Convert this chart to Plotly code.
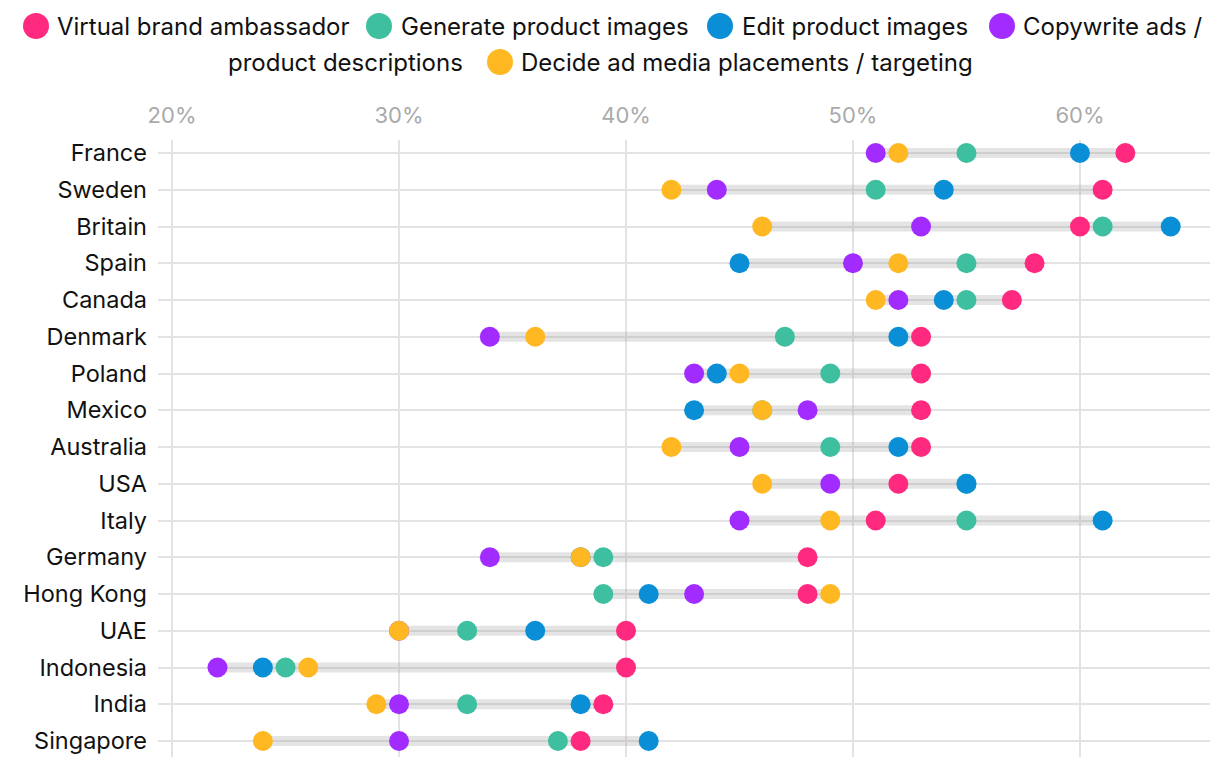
import plotly.graph_objects as go

countries = ["France", "Sweden", "Britain", "Spain", "Canada", "Denmark", "Poland",
             "Mexico", "Australia", "USA", "Italy", "Germany", "Hong Kong", "UAE",
             "Indonesia", "India", "Singapore"]
virtual = [62, 61, 60, 58, 57, 53, 53, 53, 53, 52, 51, 48, 48, 40, 40, 39, 38]
generate = [55, 51, 61, 55, 55, 47, 49, 46, 49, 55, 55, 39, 39, 33, 25, 33, 37]
edit = [60, 54, 64, 45, 54, 52, 44, 43, 52, 55, 61, 38, 41, 36, 24, 38, 41]
copywrite = [51, 44, 53, 50, 52, 34, 43, 48, 45, 49, 45, 34, 43, 30, 22, 30, 30]
decide = [52, 42, 46, 52, 51, 36, 45, 46, 42, 46, 49, 38, 49, 30, 26, 29, 24]

series_names = ["Virtual brand ambassador", "Generate product images", "Edit product images",
                "Copywrite ads / product descriptions", "Decide ad media placements / targeting"]
series_values = [virtual, generate, edit, copywrite, decide]
colors = ["#FF2A7F", "#3DBFA0", "#0A8FD6", "#A22CFF", "#FFB822"]
tick_vals = [20, 30, 40, 50, 60]
tick_text = ["20%", "30%", "40%", "50%", "60%"]

FONT = "Inter"
LEG_FS = 24
fig = go.Figure()

# range bars
bx, by = [], []
for i, c in enumerate(countries):
    vals = [s[i] for s in series_values]
    bx += [min(vals), max(vals), None]
    by += [c, c, None]
fig.add_trace(go.Scatter(x=bx, y=by, mode="lines",
                         line=dict(color="rgba(150,150,150,0.26)", width=10),
                         hoverinfo="skip", showlegend=False))

for name, vals, col in zip(series_names, series_values, colors):
    fig.add_trace(go.Scatter(x=vals, y=countries, mode="markers", name=name,
                             marker=dict(size=20, color=col, line=dict(width=0)),
                             showlegend=False))

# page offset (body margin) compensation
OX, OY = 8, 8
L_LEFT, L_TOP, PW, PH = 150, 132, 1052, 617
legend_items = [
    (36, 26, 55, series_names[0], colors[0]),
    (379, 26, 399, series_names[1], colors[1]),
    (720, 26, 740, series_names[2], colors[2]),
    (1002, 26, 1021, "Copywrite ads /", colors[3]),
    (500, 62, 519, "Decide ad media placements / targeting", colors[4]),
]
shapes = []
annotations = []
for cx, cy, tx, txt, col in legend_items:
    cx, cy, tx = cx - OX, cy - OY, tx - OX
    shapes.append(dict(type="circle", xref="paper", yref="paper",
                       xsizemode="pixel", ysizemode="pixel",
                       xanchor=(cx - L_LEFT) / PW, yanchor=1 + (L_TOP - cy) / PH,
                       x0=-13, x1=13, y0=-13, y1=13,
                       fillcolor=col, line=dict(width=0)))
    annotations.append(dict(xref="paper", yref="paper", x=0, y=1,
                            xshift=tx - L_LEFT, yshift=L_TOP - cy,
                            xanchor="left", yanchor="middle", showarrow=False,
                            text=txt, font=dict(family=FONT, size=LEG_FS, color="#111111")))
annotations.append(dict(xref="paper", yref="paper", x=0, y=1,
                        xshift=465 - OX - L_LEFT, yshift=L_TOP - (62 - OY),
                        xanchor="right", yanchor="middle", showarrow=False,
                        text="product descriptions",
                        font=dict(family=FONT, size=LEG_FS, color="#111111")))

fig.update_layout(
    width=1220, height=768,
    paper_bgcolor="white", plot_bgcolor="white",
    margin=dict(l=L_LEFT, r=1220 - L_LEFT - PW, t=L_TOP, b=768 - L_TOP - PH),
    font=dict(family=FONT),
    shapes=shapes, annotations=annotations,
    xaxis=dict(side="top", range=[19.38, 65.73], tickvals=tick_vals, ticktext=tick_text,
               tickfont=dict(family=FONT, size=22, color="#AAAAAA"),
               showgrid=True, gridcolor="#E3E3E3", gridwidth=2, zeroline=False,
               showline=False, ticks="", ticklabelstandoff=12, fixedrange=True),
    yaxis=dict(type="category", categoryorder="array", categoryarray=countries,
               range=[16.435, -0.354],
               tickfont=dict(family=FONT, size=23.5, color="#111111"),
               showgrid=True, gridcolor="#E3E3E3", gridwidth=2, zeroline=False,
               showline=False, ticks="", ticklabelstandoff=10, fixedrange=True),
)

fig.write_html("out.html")
